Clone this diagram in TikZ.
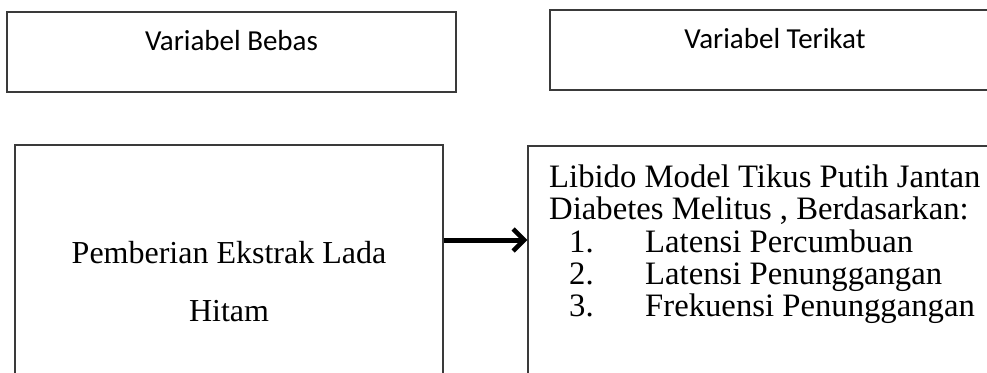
\documentclass[tikz,border=0pt]{standalone}
\usepackage{fontspec}
\usepackage{tikz}
\usetikzlibrary{arrows.meta}
\setmainfont{Liberation Serif}
\newfontfamily\calibri{Carlito}
\definecolor{FrameGray}{HTML}{3A3A3A}

\begin{document}
\begin{tikzpicture}[x=1pt,y=-1pt,
    every node/.style={inner sep=0pt, font=\fontsize{32}{32}\selectfont},
    panel/.style={draw=FrameGray, line width=1.4pt, rectangle},
    head/.style={anchor=base, font=\calibri\fontsize{29}{29}\selectfont},
    line/.style={anchor=base west, font=\fontsize{32.7}{32.7}\selectfont},
    link/.style={line width=5pt, -{Straight Barb[length=11pt,width=22pt,line width=4.5pt]}}]
  \clip (0,0) rectangle (987,372);
  \fill[white] (0,0) rectangle (987,372);
  \node[panel, minimum width=449, minimum height=80] (bebas) at (231.5,52) {};
  \node[head] (bebastxt) at (231.5,50) {Variabel Bebas};
  \node[panel, minimum width=450, minimum height=80] (terikat) at (775,50) {};
  \node[head] (terikattxt) at (775,48) {Variabel Terikat};
  \node[panel, minimum width=428, minimum height=275] (lada) at (229,282.5) {};
  \node[anchor=base] (lada1) at (229,263) {Pemberian Ekstrak Lada};
  \node[anchor=base] (lada2) at (229,321) {Hitam};
  \node[panel, minimum width=492, minimum height=274] (libido) at (774,283) {};
  \node[line] (libido1) at (549,187) {Libido Model Tikus Putih Jantan};
  \node[line] (libido2) at (549,219.7) {Diabetes Melitus , Berdasarkan:};
  \foreach \n/\txt in {1/Latensi Percumbuan, 2/Latensi Penunggangan, 3/Frekuensi Penunggangan} {
    \node[line] (num\n) at (569,219.7+32.3*\n) {\n.};
    \node[line] (item\n) at (645,219.7+32.3*\n) {\txt};
  }
  \draw[link] ([yshift=42.5pt]lada.east) -- ([yshift=43pt]libido.west);
\end{tikzpicture}
\end{document}
